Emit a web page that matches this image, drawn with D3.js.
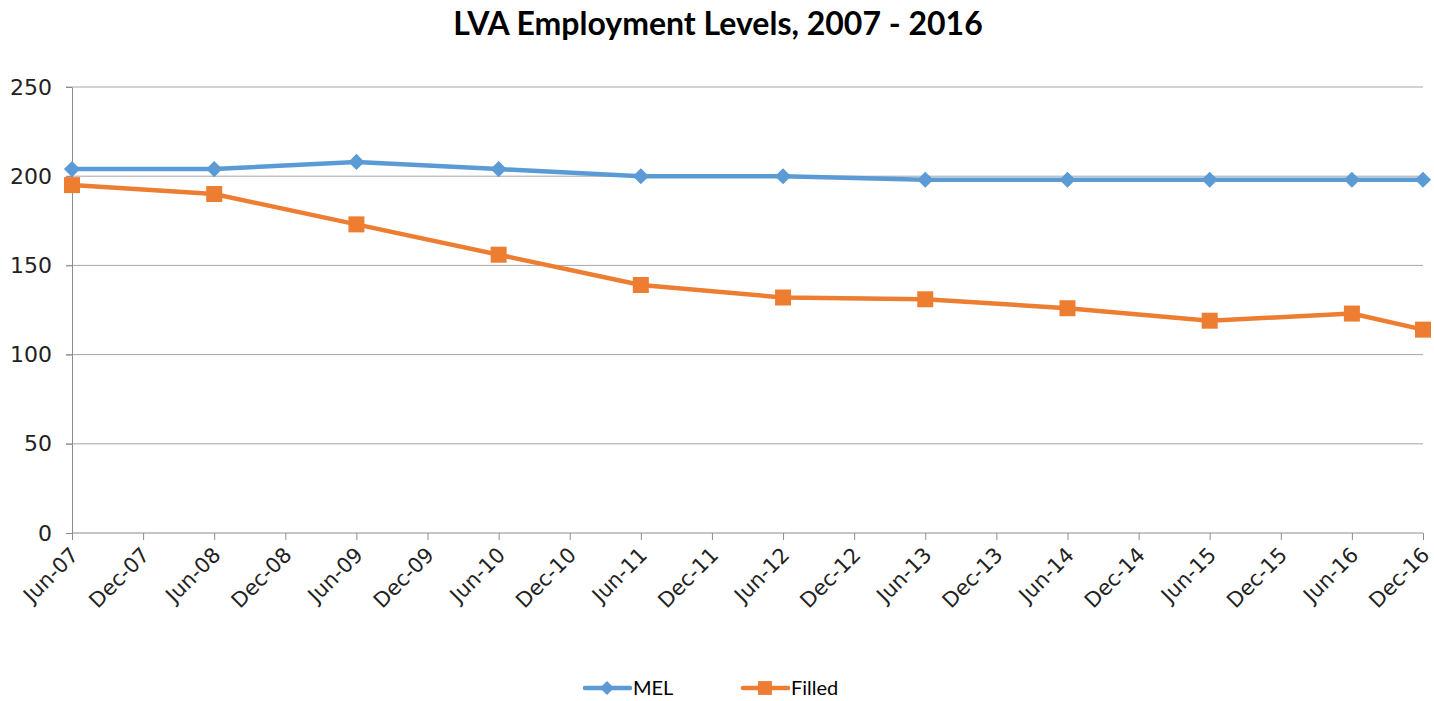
<!DOCTYPE html>
<html>
<head>
    <meta charset="utf-8"/>
    <title>LVA Employment Levels</title>
    <script src="https://d3js.org/d3.v7.min.js"></script>
    <style>
        body { margin: 0; background: #fff; }
        .grid line { stroke: #a6a6a6; stroke-width: 1; }
        .axis path, .axis line { stroke: #8c8c8c; }
    </style>
</head>
<body>
<div id="chart"></div>
<script>
    // tick labels along the bottom (every 6 months)
    var periods = ["Jun-07", "Dec-07", "Jun-08", "Dec-08", "Jun-09", "Dec-09", "Jun-10", "Dec-10",
                   "Jun-11", "Dec-11", "Jun-12", "Dec-12", "Jun-13", "Dec-13", "Jun-14", "Dec-14",
                   "Jun-15", "Dec-15", "Jun-16", "Dec-16"];
    // periods that have data
    var points = ["Jun-07", "Jun-08", "Jun-09", "Jun-10", "Jun-11", "Jun-12", "Jun-13",
                  "Jun-14", "Jun-15", "Jun-16", "Dec-16"];
    var mel    = [204, 204, 208, 204, 200, 200, 198, 198, 198, 198, 198];
    var filled = [195, 190, 173, 156, 139, 132, 131, 126, 119, 123, 114];
    var yTicks = [0, 50, 100, 150, 200, 250];

    var width = 1434, height = 701;
    var plotLeft = 72, plotRight = 1423, plotTop = 87, plotBottom = 533;
    var axisFont = "'DejaVu Sans', Verdana, sans-serif";

    var svg = d3.select("#chart").append("svg")
        .attr("width", width)
        .attr("height", height);

    var x = d3.scalePoint().domain(periods).range([plotLeft, plotRight]);
    var y = d3.scaleLinear().domain([0, 250]).range([plotBottom, plotTop]);

    // title
    svg.append("text")
       .attr("x", 718).attr("y", 35)
       .attr("text-anchor", "middle")
       .style("font-family", "Lato, 'Open Sans', sans-serif")
       .style("font-weight", "bold")
       .style("font-size", "32px")
       .text("LVA Employment Levels, 2007 - 2016");

    // gridlines
    svg.append("g").attr("class", "grid")
       .selectAll("line")
       .data(yTicks.filter(function(d) { return d > 0; }))
       .enter().append("line")
       .attr("x1", plotLeft - 6).attr("x2", plotRight)
       .attr("y1", function(d) { return y(d); })
       .attr("y2", function(d) { return y(d); });

    // y axis
    var yAxis = svg.append("g").attr("class", "axis")
       .attr("transform", "translate(" + plotLeft + ",0)")
       .call(d3.axisLeft(y).tickValues(yTicks).tickSize(6).tickSizeOuter(0).tickPadding(14));
    yAxis.selectAll("text")
       .style("font-family", axisFont)
       .style("font-size", "22px")
       .attr("fill", "#222");

    // x axis
    var xAxis = svg.append("g").attr("class", "axis")
       .attr("transform", "translate(0," + plotBottom + ")")
       .call(d3.axisBottom(x).tickSize(7).tickSizeOuter(0));
    xAxis.select(".domain").attr("d", "M" + plotLeft + ",0H" + plotRight);
    xAxis.selectAll("text")
       .style("font-family", axisFont)
       .style("font-size", "21px")
       .attr("fill", "#222")
       .attr("text-anchor", "end")
       .attr("dy", "0.35em")
       .attr("transform", "translate(2,18) rotate(-45)")
       .attr("y", 0).attr("x", 0);

    var line = d3.line()
        .x(function(d) { return x(d[0]); })
        .y(function(d) { return y(d[1]); });

    var series = [
        { name: "MEL", values: mel, color: "#5b9bd5", size: 130, rot: 45 },
        { name: "Filled", values: filled, color: "#ed7d31", size: 256, rot: 0 }
    ];

    series.forEach(function(s) {
        var data = points.map(function(p, i) { return [p, s.values[i]]; });
        svg.append("path")
           .datum(data)
           .attr("fill", "none")
           .attr("stroke", s.color)
           .attr("stroke-width", 4.5)
           .attr("stroke-linejoin", "round")
           .attr("d", line);
        svg.selectAll(".pt-" + s.name)
           .data(data)
           .enter().append("path")
           .attr("transform", function(d) {
               return "translate(" + x(d[0]) + "," + y(d[1]) + ") rotate(" + s.rot + ")";
           })
           .attr("d", d3.symbol().type(d3.symbolSquare).size(s.size))
           .attr("fill", s.color);
    });

    // legend
    var legendX = [585, 743];
    series.forEach(function(s, i) {
        var g = svg.append("g").attr("transform", "translate(" + legendX[i] + ",688)");
        g.append("line").attr("x1", 0).attr("x2", 45)
         .attr("stroke", s.color).attr("stroke-width", 4.5).attr("stroke-linecap", "round");
        g.append("path").attr("transform", "translate(22,0) rotate(" + s.rot + ")")
         .attr("d", d3.symbol().type(d3.symbolSquare).size(s.size * 0.75)).attr("fill", s.color);
        g.append("text").attr("x", 48).attr("y", 7)
         .style("font-family", "Lato, 'Open Sans', sans-serif")
         .style("font-size", "20px")
         .text(s.name);
    });
</script>
</body>
</html>
